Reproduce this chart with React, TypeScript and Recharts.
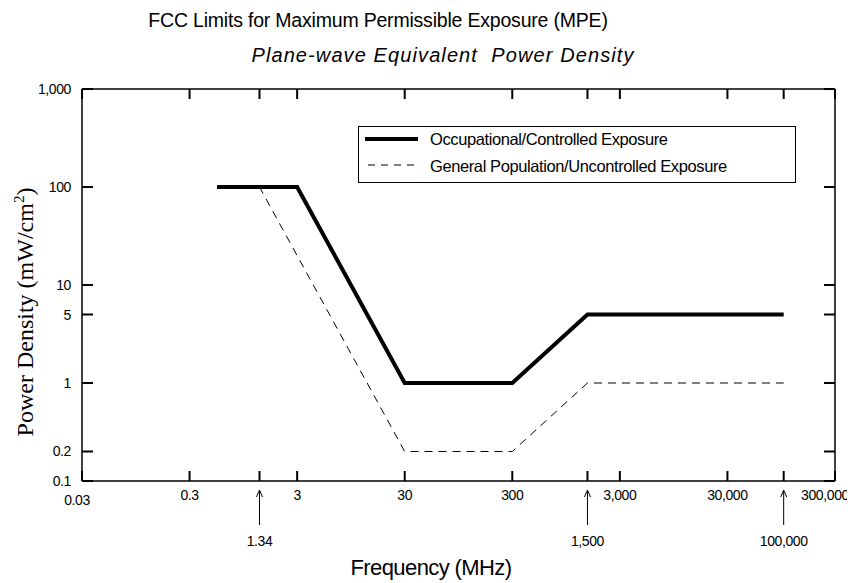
import React from "react";
import {
  LineChart,
  Line,
  XAxis,
  YAxis,
  Legend,
} from "recharts";

// frequency in MHz, power density in mW/cm^2
const occFreq = [0.54, 3, 30, 300, 1500, 100000];
const occMpe = [100, 100, 1, 1, 5, 5];
const genFreq = [0.54, 1.34, 30, 300, 1500, 100000];
const genMpe = [100, 100, 0.2, 0.2, 1, 1];

const xTicks = [0.03, 0.3, 3, 30, 300, 3000, 30000, 300000];
const xTickLabels = ["0.03", "0.3", "3", "30", "300", "3,000", "30,000", "300,000"];
const arrowTicks = [1.34, 1500, 100000];
const arrowLabels = ["1.34", "1,500", "100,000"];
const yTicks = [0.1, 0.2, 1, 5, 10, 100, 1000];
const yTickLabels = ["0.1", "0.2", "1", "5", "10", "100", "1,000"];

const occData = occFreq.map((f, i) => ({ freq: f, mpe: occMpe[i] }));
const genData = genFreq.map((f, i) => ({ freq: f, mpe: genMpe[i] }));
const allXTicks = [...xTicks, ...arrowTicks].sort((a, b) => a - b);

const FONT = "'Liberation Sans', Arial, sans-serif";
const SERIF = "'Liberation Serif', 'Times New Roman', serif";
const TICK = 10; // inward tick length
const tickLineStyle = { stroke: "#000", strokeWidth: 2 };

function BottomTick(props: any) {
  const { x, payload } = props;
  const y = props.y + TICK; // label coord sits at the inner end of the tick
  const v = payload.value;
  const ai = arrowTicks.indexOf(v);
  if (ai >= 0) {
    return (
      <g>
        <line x1={x} y1={y + 8} x2={x} y2={y + 42} stroke="#000" strokeWidth={1} />
        <path d={`M${x - 3},${y + 14} L${x},${y + 7} L${x + 3},${y + 14}`} fill="none" stroke="#000" strokeWidth={1} />
        <text x={x} y={y + 63} textAnchor="middle" fontSize={14} fontFamily={FONT} letterSpacing={-0.4} fill="#000">
          {arrowLabels[ai]}
        </text>
      </g>
    );
  }
  const i = xTicks.indexOf(v);
  let dx = 0;
  let dy = 0;
  if (i === 0) {
    dx = -5;
    dy = 5;
  }
  if (i === xTicks.length - 1) dx = -10;
  return (
    <text x={x + dx} y={y + 17 + dy} textAnchor="middle" fontSize={14} fontFamily={FONT} letterSpacing={-0.4} fill="#000">
      {xTickLabels[i]}
    </text>
  );
}

function LeftTick(props: any) {
  const { y, payload } = props;
  const x = props.x - 11;
  const i = yTicks.indexOf(payload.value);
  return (
    <text x={x - 9} y={y + 5} textAnchor="end" fontSize={14} fontFamily={FONT} letterSpacing={-0.4} fill="#000">
      {yTickLabels[i]}
    </text>
  );
}

function NoLabel() {
  return <g />;
}

function LegendBox() {
  return (
    <svg width={440} height={58} style={{ display: "block", overflow: "visible" }}>
      <rect x={0.5} y={0.5} width={437} height={56} fill="#fff" stroke="#000" strokeWidth={1} />
      <line x1={7} y1={13} x2={60} y2={13} stroke="#000" strokeWidth={4} />
      <text x={72} y={19} fontSize={16.5} fontFamily={FONT} letterSpacing={-0.4} fill="#000">
        Occupational/Controlled Exposure
      </text>
      <line x1={10} y1={39} x2={60} y2={39} stroke="#000" strokeWidth={1} strokeDasharray="7 6" />
      <text x={72} y={46} fontSize={16.5} fontFamily={FONT} letterSpacing={-0.4} fill="#000">
        General Population/Uncontrolled Exposure
      </text>
    </svg>
  );
}

export default function App() {
  return (
    <div style={{ position: "relative", width: 847, height: 575 }}>
      <LineChart
        width={847}
        height={575}
        margin={{ top: 80, right: 19, left: 0, bottom: 0 }}
        style={{ background: "#ffffff" }}
      >
        <XAxis
          dataKey="freq"
          type="number"
          scale="log"
          domain={[0.03, 300000]}
          allowDataOverflow
          ticks={allXTicks}
          interval={0}
          height={102}
          tickSize={-TICK}
          tick={<BottomTick />}
          axisLine={{ stroke: "#000", strokeWidth: 1.5 }}
          tickLine={tickLineStyle}
        />
        <XAxis
          xAxisId="top"
          orientation="top"
          dataKey="freq"
          type="number"
          scale="log"
          domain={[0.03, 300000]}
          allowDataOverflow
          ticks={allXTicks}
          interval={0}
          height={1}
          tickSize={-TICK}
          tick={<NoLabel />}
          axisLine={{ stroke: "#000", strokeWidth: 1.5 }}
          tickLine={tickLineStyle}
        />
        <YAxis
          type="number"
          scale="log"
          domain={[0.1, 1000]}
          allowDataOverflow
          ticks={yTicks}
          interval={0}
          width={74}
          tickSize={-11}
          tick={<LeftTick />}
          axisLine={{ stroke: "#000", strokeWidth: 1.5 }}
          tickLine={tickLineStyle}
        />
        <YAxis
          yAxisId="right"
          orientation="right"
          type="number"
          scale="log"
          domain={[0.1, 1000]}
          allowDataOverflow
          ticks={yTicks}
          interval={0}
          width={1}
          tickSize={-11}
          tick={<NoLabel />}
          axisLine={{ stroke: "#000", strokeWidth: 1.5 }}
          tickLine={tickLineStyle}
        />
        <Legend
          content={<LegendBox />}
          wrapperStyle={{ position: "absolute", left: 350, top: 118, width: 440, height: 0, bottom: "auto", overflow: "visible" }}
        />
        <Line
          data={genData}
          dataKey="mpe"
          name="General Population/Uncontrolled Exposure"
          stroke="#000"
          strokeWidth={1}
          strokeDasharray="8 6"
          dot={false}
          isAnimationActive={false}
        />
        <Line
          data={occData}
          dataKey="mpe"
          name="Occupational/Controlled Exposure"
          stroke="#000"
          strokeWidth={4}
          dot={false}
          isAnimationActive={false}
        />
      </LineChart>
      <svg
        width={847}
        height={575}
        style={{ position: "absolute", left: 0, top: 0, pointerEvents: "none" }}
      >
        <text x={370} y={19} textAnchor="middle" fontSize={19.5} fontFamily={FONT} letterSpacing={-0.2} fill="#000">
          FCC Limits for Maximum Permissible Exposure (MPE)
        </text>
        <text x={435} y={54} textAnchor="middle" fontSize={20} fontStyle="italic" fontFamily={FONT} letterSpacing={1.1} fill="#000">
          {"Plane-wave Equivalent\u00A0 Power Density"}
        </text>
        <text x={423} y={567} textAnchor="middle" fontSize={22} fontFamily={FONT} letterSpacing={-0.6} fill="#000">
          Frequency (MHz)
        </text>
        <text
          transform="translate(25, 304) rotate(-90)"
          textAnchor="middle"
          fontSize={24}
          fontFamily={SERIF}
          fill="#000"
        >
          Power Density (mW/cm<tspan dy={-9} fontSize={15}>2</tspan><tspan dy={9}>)</tspan>
        </text>
      </svg>
    </div>
  );
}
